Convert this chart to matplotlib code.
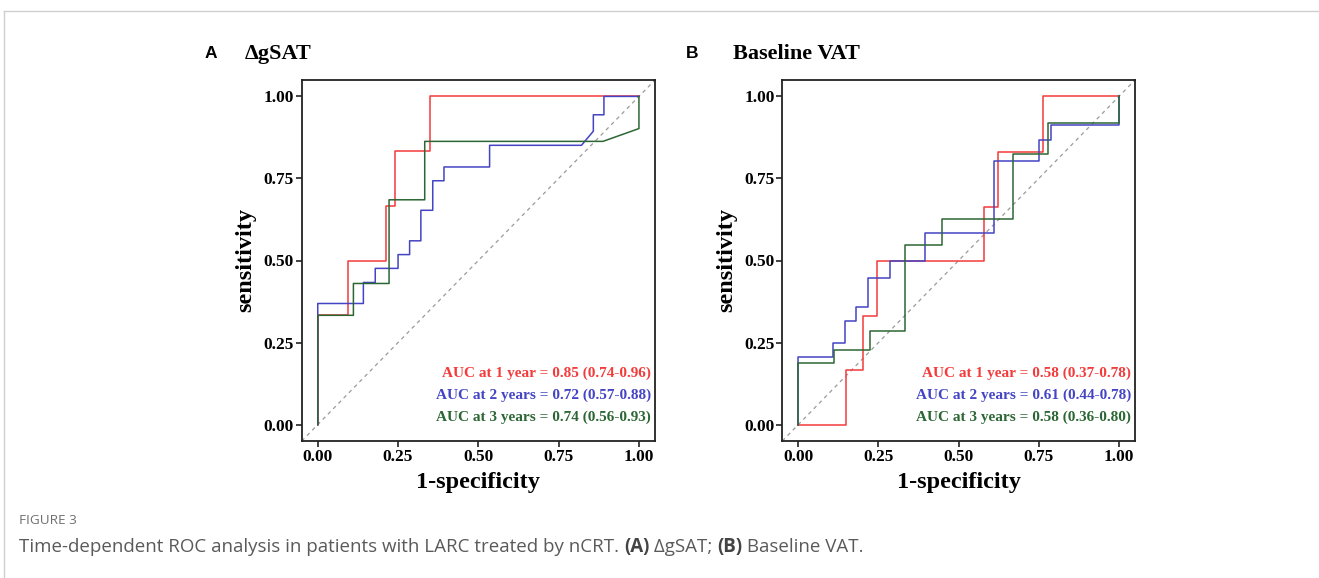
import matplotlib
matplotlib.use("Agg")
import matplotlib.pyplot as plt

# ---------------- data ----------------
ticks = [0.00, 0.25, 0.50, 0.75, 1.00]
tick_labels = ["0.00", "0.25", "0.50", "0.75", "1.00"]

# Panel A: delta gSAT  (ROC points: 1-specificity, sensitivity)
a1_fpr = [0, 0, 0.095, 0.095, 0.212, 0.212, 0.242, 0.242, 0.348, 0.348, 1.0]
a1_tpr = [0, 0.333, 0.333, 0.5, 0.5, 0.667, 0.667, 0.833, 0.833, 1.0, 1.0]

a2_fpr = [0, 0, 0.142, 0.142, 0.179, 0.179, 0.25, 0.25, 0.286, 0.286, 0.321, 0.321,
          0.358, 0.358, 0.393, 0.393, 0.535, 0.535, 0.821, 0.858, 0.858, 0.891, 0.891, 1.0]
a2_tpr = [0, 0.369, 0.369, 0.433, 0.433, 0.476, 0.476, 0.518, 0.518, 0.560, 0.560, 0.653,
          0.653, 0.743, 0.743, 0.785, 0.785, 0.851, 0.851, 0.894, 0.944, 0.944, 1.0, 1.0]

a3_fpr = [0, 0, 0.111, 0.111, 0.222, 0.222, 0.333, 0.333, 0.888, 1.0, 1.0]
a3_tpr = [0, 0.333, 0.333, 0.430, 0.430, 0.685, 0.685, 0.863, 0.863, 0.902, 1.0]

# Panel B: baseline VAT
b1_fpr = [0, 0.148, 0.148, 0.201, 0.201, 0.244, 0.244, 0.579, 0.579, 0.622, 0.622, 0.762, 0.762, 1.0]
b1_tpr = [0, 0, 0.165, 0.165, 0.331, 0.331, 0.5, 0.5, 0.663, 0.663, 0.830, 0.830, 1.0, 1.0]

b2_fpr = [0, 0, 0.108, 0.108, 0.144, 0.144, 0.180, 0.180, 0.216, 0.216, 0.287, 0.287,
          0.394, 0.394, 0.609, 0.609, 0.751, 0.751, 0.787, 0.787, 1.0, 1.0]
b2_tpr = [0, 0.207, 0.207, 0.25, 0.25, 0.317, 0.317, 0.357, 0.357, 0.448, 0.448, 0.5,
          0.5, 0.585, 0.585, 0.803, 0.803, 0.868, 0.868, 0.913, 0.913, 1.0]

b3_fpr = [0, 0, 0.112, 0.112, 0.222, 0.222, 0.334, 0.334, 0.447, 0.447, 0.669, 0.669,
          0.778, 0.778, 1.0, 1.0]
b3_tpr = [0, 0.187, 0.187, 0.228, 0.228, 0.286, 0.286, 0.547, 0.547, 0.627, 0.627, 0.823,
          0.823, 0.92, 0.92, 1.0]

a_labels = ["AUC at 1 year = 0.85 (0.74-0.96)",
            "AUC at 2 years = 0.72 (0.57-0.88)",
            "AUC at 3 years = 0.74 (0.56-0.93)"]
b_labels = ["AUC at 1 year = 0.58 (0.37-0.78)",
            "AUC at 2 years = 0.61 (0.44-0.78)",
            "AUC at 3 years = 0.58 (0.36-0.80)"]

colors = ["#F43B3B", "#4444C4", "#2C6634"]

SERIF = ["Liberation Serif", "DejaVu Serif"]

W, H = 1319, 578
fig = plt.figure(figsize=(W / 100, H / 100), dpi=100)

# page frame lines
fig.add_artist(plt.Line2D([4 / W, 1.0], [1 - 11 / H, 1 - 11 / H], color="#cfcfcf", lw=1.0))
fig.add_artist(plt.Line2D([4 / W, 4 / W], [1 - 11 / H, 0], color="#cfcfcf", lw=1.0))


def make_panel(left_px, right_px, curves, labels, letter, title, letter_x, title_x, label_right_px):
    top_px, bot_px = 80, 441
    ax = fig.add_axes([left_px / W, 1 - bot_px / H, (right_px - left_px) / W, (bot_px - top_px) / H])
    ax.set_xlim(-0.05, 1.05)
    ax.set_ylim(-0.05, 1.05)
    ax.plot([-0.05, 1.05], [-0.05, 1.05], color="#9a9a9a", lw=0.9, ls=(0, (3, 3)), zorder=1)
    for (fx, ty), c in zip(curves, colors):
        ax.plot(fx, ty, color=c, lw=1.1, zorder=2)
    ax.set_xticks(ticks)
    ax.set_xticklabels(tick_labels)
    ax.set_yticks(ticks)
    ax.set_yticklabels(tick_labels)
    for lab in ax.get_xticklabels() + ax.get_yticklabels():
        lab.set_family(SERIF)
        lab.set_fontweight("bold")
        lab.set_fontsize(12.5)
        lab.set_color("black")
    ax.tick_params(direction="out", length=4, width=1.2, color="#222222", pad=1.5)
    for sp in ax.spines.values():
        sp.set_linewidth(1.3)
        sp.set_color("#222222")
    ax.set_xlabel("1-specificity", family=SERIF, fontweight="bold", fontsize=17.5, labelpad=5)
    ax.set_ylabel("sensitivity", family=SERIF, fontweight="bold", fontsize=17.5, labelpad=5)
    ys = [373, 395.5, 417.5]
    for lab, c, y in zip(labels, colors, ys):
        fig.text(label_right_px / W, 1 - y / H, lab, color=c, family=SERIF, fontweight="bold",
                 fontsize=11, ha="right", va="center")
    fig.text(letter_x / W, 1 - 54 / H, letter, family=["Liberation Sans", "DejaVu Sans"],
             fontweight="bold", fontsize=12.5, ha="left", va="center")
    fig.text(title_x / W, 1 - 54 / H, title, family=SERIF, fontweight="bold",
             fontsize=16, ha="left", va="center")
    return ax


make_panel(301.7, 655, [(a1_fpr, a1_tpr), (a2_fpr, a2_tpr), (a3_fpr, a3_tpr)],
           a_labels, "A", "\u0394gSAT", 205, 245, 651)
make_panel(782.3, 1135, [(b1_fpr, b1_tpr), (b2_fpr, b2_tpr), (b3_fpr, b3_tpr)],
           b_labels, "B", "Baseline VAT", 686, 733, 1131)

# caption
CAP = ["Open Sans", "DejaVu Sans"]
fig.text(19 / W, 1 - 521 / H, "FIGURE 3", family=CAP, fontsize=9.7, color="#6f6f6f",
         ha="left", va="center")
cap_parts = [("Time-dependent ROC analysis in patients with LARC treated by nCRT. ", "normal"),
             ("(A)", "bold"), (" \u0394gSAT; ", "normal"), ("(B)", "bold"), (" Baseline VAT.", "normal")]
fig.canvas.draw()
renderer = fig.canvas.get_renderer()
x = 19 / W
for txt, wt in cap_parts:
    t = fig.text(x, 1 - 547 / H, txt, family=CAP, fontsize=13.5, fontweight=wt,
                 color="#5a5a5a" if wt == "normal" else "#444444", ha="left", va="center")
    bb = t.get_window_extent(renderer=renderer)
    x += bb.width / W

fig.savefig("out.png", dpi=100)
